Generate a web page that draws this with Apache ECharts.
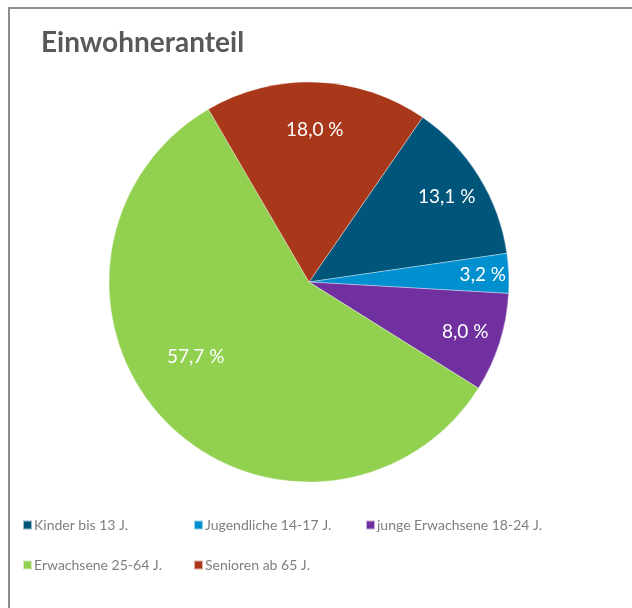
<!DOCTYPE html>
<html>
<head>
<meta charset="utf-8">
<script src="https://cdn.jsdelivr.net/npm/echarts@6/dist/echarts.min.js"></script>
<style>
  html, body { margin: 0; padding: 0; background: #fff; }
  #chart { width: 632px; height: 608px; }
  #frame {
    position: absolute; left: 8px; top: 7px; width: 700px; height: 700px;
    border-top: 2px solid #8c8c8c; border-left: 2px solid #8c8c8c;
    pointer-events: none;
  }
</style>
</head>
<body>
<div id="chart"></div>
<div id="frame"></div>
<script>
const categories = ['Kinder bis 13 J.', 'Jugendliche 14-17 J.', 'junge Erwachsene 18-24 J.', 'Erwachsene 25-64 J.', 'Senioren ab 65 J.'];
const values = [13.1, 3.2, 8.0, 57.7, 18.0];

const colors = ['#00557a', '#0090d0', '#7030a0', '#92d050', '#a9381a'];
// Lage der Beschriftung: Anteil vom Radius, Drehung in Grad
const labelRadius = [0.81, 0.87, 0.82, 0.68, 0.76];
const labelTurn = [0, 0, 0, 10.5, 0];
const center = [309, 282];
const fontFamily = 'Lato';

const chart = echarts.init(document.getElementById('chart'));

const legendCols = [22, 193, 365];

const option = {
  backgroundColor: '#fff',
  color: colors,
  textStyle: { fontFamily: fontFamily },
  title: {
    text: 'Einwohneranteil',
    left: 36,
    top: 24,
    textStyle: { fontSize: 28, fontWeight: 'bold', color: '#595959', fontFamily: fontFamily }
  },
  legend: legendCols.map((left, col) => ({
    data: categories.filter((_, i) => i % 3 === col),
    orient: 'vertical',
    left: left,
    top: 518,
    padding: 0,
    itemGap: 26,
    itemWidth: 9,
    itemHeight: 9,
    icon: 'rect',
    selectedMode: false,
    textStyle: { fontSize: 14, color: '#7f7f7f', fontFamily: fontFamily, padding: [0, 0, 0, -3] }
  })),
  series: [
    {
      type: 'pie',
      center: center,
      radius: [0, 200],
      startAngle: 55.4,
      clockwise: true,
      animation: false,
      itemStyle: { borderColor: 'rgba(255,255,255,0.6)', borderWidth: 0.6 },
      label: {
        show: true,
        position: 'inside',
        color: '#fff',
        fontSize: 19,
        fontFamily: fontFamily,
        formatter: p => p.value.toFixed(1).replace('.', ',') + ' %'
      },
      labelLine: { show: false },
      emphasis: { disabled: true },
      labelLayout: function (params) {
        const rect = params.labelRect;
        const x = rect.x + rect.width / 2 - center[0];
        const y = rect.y + rect.height / 2 - center[1];
        const r = labelRadius[params.dataIndex] * 200;
        const a = Math.atan2(y, x) + labelTurn[params.dataIndex] * Math.PI / 180;
        return { dx: Math.cos(a) * r - x, dy: Math.sin(a) * r - y };
      },
      data: categories.map((name, i) => ({ name: name, value: values[i] }))
    }
  ]
};

chart.setOption(option);
</script>
</body>
</html>
